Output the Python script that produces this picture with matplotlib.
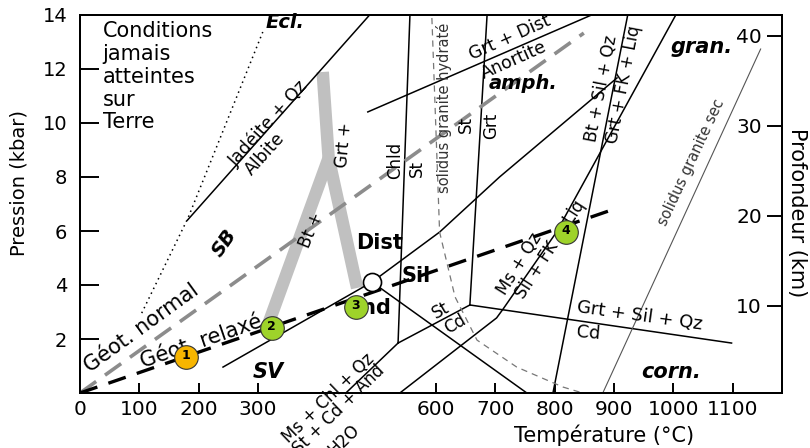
import matplotlib
matplotlib.use("Agg")
import matplotlib.pyplot as plt

# ---------------- data (T in °C, P in kbar) ----------------
x_ticks = [0, 100, 200, 300, 600, 700, 800, 900, 1000, 1100]
y_ticks = [2, 4, 6, 8, 10, 12, 14]
depth_ticks = [10, 20, 30, 40]

ecl_T = [104, 182, 308]
ecl_P = [2.96, 6.48, 13.37]

jadeite_T = [181, 488]
jadeite_P = [6.4, 14.0]

band_main_T = [409, 419, 467]
band_main_P = [11.89, 8.70, 3.89]
band_left_T = [419, 318]
band_left_P = [8.70, 2.60]

geot_normal_T = [0, 849]
geot_normal_P = [0, 13.33]
geot_relax_T = [0, 896]
geot_relax_P = [0, 6.78]

points_T = [179, 323, 465, 819]
points_P = [1.33, 2.41, 3.19, 5.96]
points_lab = ["1", "2", "3", "4"]
points_col = ["#F7B500", "#9ED32A", "#9ED32A", "#9ED32A"]

triple_T = [492]
triple_P = [4.11]

dist_sil_T = [492, 606, 707, 905]
dist_sil_P = [4.11, 5.96, 8.0, 11.67]
and_sil_T = [492, 753]
and_sil_P = [4.11, 0.0]
and_dist_T = [241, 492]
and_dist_P = [0.96, 4.11]

chld_st_T = [556, 536]
chld_st_P = [14.0, 1.85]
ms_chl_T = [536, 448]
ms_chl_P = [1.85, 0.0]
st_cd_T = [536, 657]
st_cd_P = [1.85, 3.26]
grt_T = [686, 657]
grt_P = [14.0, 3.26]
grt_sil_T = [657, 1098]
grt_sil_P = [3.26, 1.85]

ms_qz_T = [539, 702, 713, 803, 1004]
ms_qz_P = [0.0, 2.78, 3.11, 5.96, 14.0]
bt_T = [923, 797]
bt_P = [14.0, 0.0]

grt_dist_T = [485, 862]
grt_dist_P = [10.41, 14.0]

sol_hyd_T = [593, 606, 632, 669, 736, 814, 847]
sol_hyd_P = [13.89, 5.96, 3.56, 1.96, 0.96, 0.22, 0.0]
sol_sec_T = [881, 1147]
sol_sec_P = [0.0, 12.74]

# ---------------- figure ----------------
plt.rcParams['font.family'] = ['DejaVu Sans']
fig = plt.figure(figsize=(8.1, 4.48), dpi=100)
ax = fig.add_axes([80/810, 55/448, 702/810, 378/448])
ax.set_xlim(0, 1183)
ax.set_ylim(0, 14)

lw = 1.1
k = 'black'
ax.plot(ecl_T, ecl_P, color=k, lw=1.1, ls=(0, (1, 2.5)))
ax.plot(jadeite_T, jadeite_P, color=k, lw=lw)
ax.plot(band_main_T, band_main_P, color='#c0c0c0', lw=9, solid_capstyle='butt', solid_joinstyle='round', zorder=1)
ax.plot(band_left_T, band_left_P, color='#c0c0c0', lw=9, solid_capstyle='butt', zorder=1)

for T, P in [(dist_sil_T, dist_sil_P), (and_sil_T, and_sil_P), (and_dist_T, and_dist_P),
             (chld_st_T, chld_st_P), (ms_chl_T, ms_chl_P), (st_cd_T, st_cd_P),
             (grt_T, grt_P), (grt_sil_T, grt_sil_P), (ms_qz_T, ms_qz_P),
             (bt_T, bt_P), (grt_dist_T, grt_dist_P)]:
    ax.plot(T, P, color=k, lw=lw, zorder=2)

ax.plot(sol_hyd_T, sol_hyd_P, color='#777777', lw=0.9, ls=(0, (5, 4)), zorder=2)
ax.plot(sol_sec_T, sol_sec_P, color='#555555', lw=0.8, zorder=2)

ax.plot(geot_normal_T, geot_normal_P, color='#8c8c8c', lw=2.6, ls=(0, (5.5, 3)), zorder=3)
ax.plot(geot_relax_T, geot_relax_P, color=k, lw=2.4, ls=(0, (5.5, 3.5)), zorder=3)

ax.plot(triple_T, triple_P, 'o', ms=13, mfc='white', mec=k, mew=1.2, zorder=5)
for T, P, lab, c in zip(points_T, points_P, points_lab, points_col):
    ax.plot(T, P, 'o', ms=17, mfc=c, mec='#333333', mew=0.8, zorder=6)
    ax.text(T, P + 0.05, lab, ha='center', va='center', fontsize=9, fontweight='bold', zorder=7)

# ---------------- texts ----------------
def t(x, y, s, rot=0, size=12, **kw):
    ax.text(x, y, s, rotation=rot, fontsize=size, ha=kw.pop('ha', 'center'),
            va=kw.pop('va', 'center'), rotation_mode='anchor', zorder=4, **kw)

t(38, 13.78, "Conditions\njamais\natteintes\nsur\nTerre", size=15, ha='left', va='top', linespacing=1.18)
t(345, 13.74, "Ecl.", size=14, fontweight='bold', fontstyle='italic')
t(317, 10.0, "Jadéite + Qz", rot=48, size=12.5)
t(312, 8.85, "Albite", rot=48, size=12.5)
t(243, 5.56, "SB", rot=55, size=14, fontweight='bold', fontstyle='italic')
t(318, 0.78, "SV", size=15, fontweight='bold', fontstyle='italic')
t(104, 2.41, "Géot. normal", rot=36, size=15)
t(204, 1.89, "Géot. relaxé", rot=19, size=15)
t(445, 9.19, "Grt +", rot=85, size=12)
t(389, 6.04, "Bt +", rot=68, size=12)
t(504, 5.56, "Dist", size=15, fontweight='bold')
t(566, 4.33, "Sil", size=15, fontweight='bold')
t(487, 3.15, "And", size=15, fontweight='bold')
t(531, 8.63, "Chld", rot=90, size=12)
t(568, 8.33, "St", rot=90, size=12)
t(613, 10.56, "solidus granite hydraté", rot=90, size=10.5, color='#333333')
t(650, 9.93, "St", rot=90, size=12)
t(692, 9.89, "Grt", rot=90, size=12)
t(724, 13.15, "Grt + Dist", rot=24, size=12.5)
t(731, 12.33, "Anortite", rot=24, size=12.5)
t(746, 11.48, "amph.", size=14, fontweight='bold', fontstyle='italic')
t(1048, 12.81, "gran.", size=15, fontweight='bold', fontstyle='italic')
t(878, 11.26, "Bt + Sil + Qz", rot=79, size=12)
t(916, 11.41, "Grt + FK + Liq", rot=79, size=12)
t(741, 4.78, "Ms + Qz", rot=58, size=12)
t(793, 5.30, "Sil + FK + Liq", rot=57, size=12)
t(608, 3.07, "St", rot=30, size=12)
t(633, 2.56, "Cd", rot=30, size=12)
t(943, 2.85, "Grt + Sil + Qz", rot=-8, size=13)
t(856, 2.22, "Cd", rot=-5, size=13)
t(996, 0.78, "corn.", size=15, fontweight='bold', fontstyle='italic')
t(1031, 8.56, "solidus granite sec", rot=65, size=10.5, color='#333333')
for (x, y, s) in [(418, -0.19, "Ms + Chl + Qz"), (436, -0.63, "St + Cd + And"), (445, -1.74, "H2O")]:
    ax.text(x, y, s, rotation=44, fontsize=12, ha='center', va='center',
            rotation_mode='anchor', clip_on=False, zorder=4)

# ---------------- axes ----------------
ax.set_xticks(x_ticks)
ax.set_yticks(y_ticks)
ax.tick_params(axis='x', direction='in', length=7, width=1.4, pad=5, labelsize=14.5)
ax.tick_params(axis='y', direction='in', length=14, width=1.4, pad=9, labelsize=14)
ax.tick_params(axis='y', which='both', right=False)
for sp in ax.spines.values():
    sp.set_linewidth(1.4)

ax2 = ax.twinx()
ax2.set_ylim(0.3, 42.3)
ax2.set_yticks(depth_ticks)
ax2.tick_params(axis='y', direction='in', length=11, width=1.4, pad=-14.5, labelsize=14.5)
for lab in ax2.get_yticklabels():
    lab.set_ha('right')
for sp in ax2.spines.values():
    sp.set_linewidth(1.4)

fig.text(19/810, 1 - 183/448, "Pression (kbar)", rotation=90, fontsize=14, ha='center', va='center')
fig.text(604/810, 1 - 435/448, "Température (°C)", fontsize=15, ha='center', va='center')
fig.text(797/810, 1 - 213/448, "Profondeur (km)", rotation=-90, fontsize=15, ha='center', va='center')

fig.savefig("out.png", dpi=100)
